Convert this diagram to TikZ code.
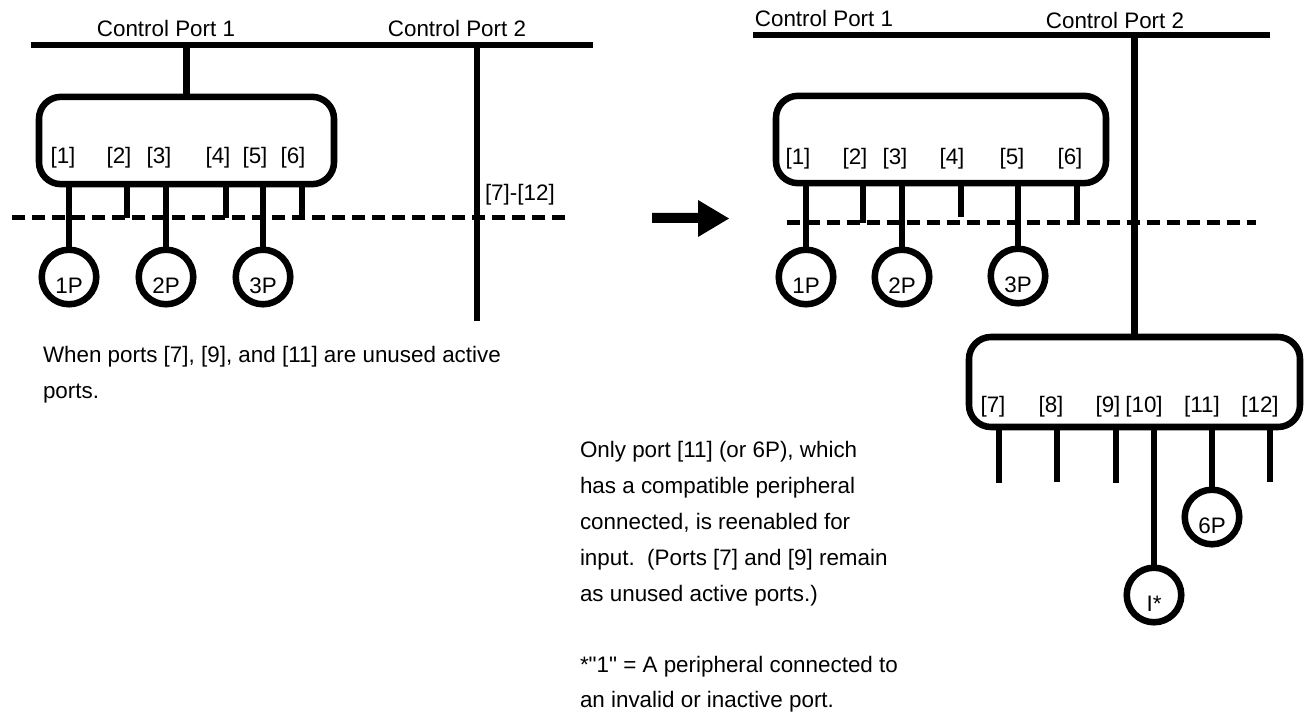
\documentclass[tikz,border=0pt]{standalone}
\usepackage{fontspec}
\setmainfont[Ligatures=TeXOff]{Liberation Sans}
\begin{document}
\begin{tikzpicture}[x=0.75pt,y=-0.75pt,
  every node/.style={font=\fontsize{16.8}{20}\selectfont, inner sep=0pt, outer sep=0pt},
  wire/.style={line width=4.9pt},
  dashline/.style={line width=3.75pt, dash pattern=on 9.75pt off 5.25pt},
  hub/.style={draw, line width=4.9pt, rectangle, rounded corners=16.5pt, minimum height=65.5pt},
  periph/.style={draw, circle, line width=4.9pt, minimum size=40.9pt},
  lab/.style={anchor=base},
  note/.style={anchor=base west}]
\useasboundingbox (0,0) rectangle (1307,713);

% ================= LEFT =================
\coordinate (LB1) at (31,45);
\coordinate (LB2) at (593,45);
\draw[wire] (LB1) -- (LB2);
\node[lab] (lcp1) at (166,37) {Control Port 1};
\node[lab] (lcp2) at (457,37) {Control Port 2};

\node[hub, minimum width=221.25pt] (lbox) at (186.5,140.5) {};
\draw[wire] (lbox.north) -- (lbox.north |- LB1);

\foreach \n/\x in {1/63,2/119,3/159,4/218,5/255,6/293}
  \node[lab] (ll\n) at (\x,164) {[\n]};

% second control port line
\coordinate (LV2) at (477,321);
\draw[wire] (LV2 |- LB1) -- (LV2);
\node[note] (lrng) at (485,200) {[7]-[12]};

% dashed boundary
\coordinate (LD1) at (12,218);
\coordinate (LD2) at (568,218);
\draw[dashline] (LD1) -- (LD2);

% peripherals
\node[periph] (p1) at (69,277) {};
\node[periph] (p2) at (166,277) {};
\node[periph] (p3) at (263,277) {};
\node[lab] (p1t) at ([yshift=-12pt]p1.center) {1P};
\node[lab] (p2t) at ([yshift=-12pt]p2.center) {2P};
\node[lab] (p3t) at ([yshift=-12pt]p3.center) {3P};
\foreach \p in {p1,p2,p3}
  \draw[wire] (\p.north |- lbox.south) -- (\p.north);

% unused stubs
\coordinate (ls2) at (127,218);
\coordinate (ls4) at (226,218);
\coordinate (ls6) at (302,218);
\foreach \s in {ls2,ls4,ls6}
  \draw[wire] (\s |- lbox.south) -- (\s);

\node[note] (lnote1) at (43,362) {When ports [7], [9], and [11] are unused active};
\node[note] (lnote2) at (43,398) {ports.};

% ================= ARROW =================
\fill (652,213) -- (698,213) -- (698,200) -- (729,218.5) -- (698,237) -- (698,223) -- (652,223) -- cycle;

% ================= RIGHT =================
\coordinate (RB1) at (753,35);
\coordinate (RB2) at (1270,35);
\draw[wire] (RB1) -- (RB2);
\node[lab] (rcp1) at (824,27) {Control Port 1};
\node[lab] (rcp2) at (1115,29) {Control Port 2};

\node[hub, minimum width=247.5pt] (rbox) at (941,139.5) {};
\foreach \n/\x in {1/798,2/855,3/895,4/952,5/1012,6/1070}
  \node[lab] (rl\n) at (\x,165) {[\n]};

\coordinate (RD1) at (787,223);
\coordinate (RD2) at (1256,223);
\draw[dashline] (RD1) -- (RD2);

\node[periph] (q1) at (806,277) {};
\node[periph] (q2) at (902,277) {};
\node[periph] (q3) at (1018,276) {};
\node[lab] (q1t) at ([yshift=-12pt]q1.center) {1P};
\node[lab] (q2t) at ([yshift=-12pt]q2.center) {2P};
\node[lab] (q3t) at ([yshift=-12pt]q3.center) {3P};
\foreach \p in {q1,q2,q3}
  \draw[wire] (\p.north |- rbox.south) -- (\p.north);

\coordinate (rs2) at (863,223);
\coordinate (rs4) at (961,217);
\coordinate (rs6) at (1077,222);
\foreach \s in {rs2,rs4,rs6}
  \draw[wire] (\s |- rbox.south) -- (\s);

% lower hub on control port 2
\node[hub, minimum width=248.25pt, minimum height=67.5pt] (xbox) at (1134.5,382) {};
\draw[wire] (xbox.north) -- (xbox.north |- RB1);
\foreach \n/\x in {7/993,8/1051,9/1108,10/1144,11/1202,12/1260}
  \node[lab] (xl\n) at (\x,412) {[\n]};

\node[periph] (r1) at (1154,595) {};
\node[periph] (r2) at (1212,517) {};
\node[lab] (r1t) at ([yshift=-12pt]r1.center) {I*};
\node[lab] (r2t) at ([yshift=-12pt]r2.center) {6P};
\foreach \p in {r1,r2}
  \draw[wire] (\p.north |- xbox.south) -- (\p.north);

\coordinate (xs7) at (999,483);
\coordinate (xs8) at (1057,482);
\coordinate (xs9) at (1116,483);
\coordinate (xs12) at (1270,482);
\foreach \s in {xs7,xs8,xs9,xs12}
  \draw[wire] (\s |- xbox.south) -- (\s);

\node[note] (rn1) at (580,457) {Only port [11] (or 6P), which};
\node[note] (rn2) at (580,493) {has a compatible peripheral};
\node[note] (rn3) at (580,529) {connected, is reenabled for};
\node[note] (rn4) at (580,565) {input.~~(Ports [7] and [9] remain};
\node[note] (rn5) at (580,601) {as unused active ports.)};
\node[note] (rn6) at (580,672) {*"1" = A peripheral connected to};
\node[note] (rn7) at (580,707) {an invalid or inactive port.};
\end{tikzpicture}
\end{document}
